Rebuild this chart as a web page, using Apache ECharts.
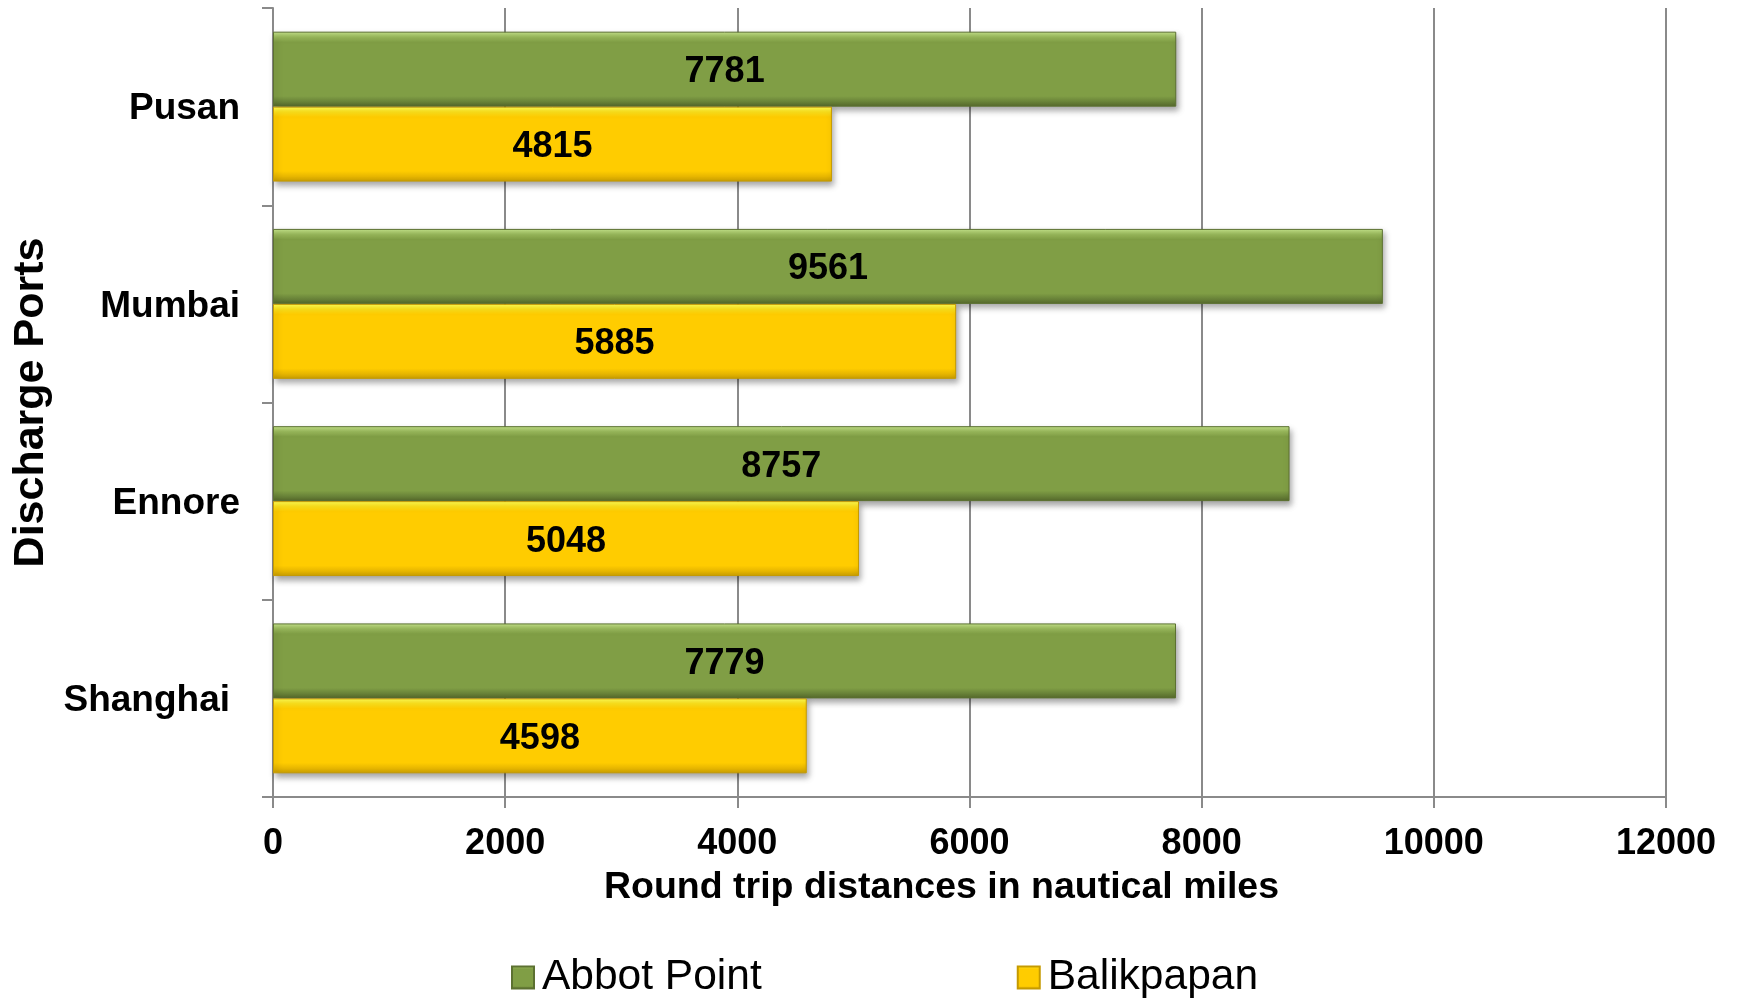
<!DOCTYPE html>
<html>
<head>
<meta charset="utf-8">
<script src="https://cdn.jsdelivr.net/npm/echarts@6/dist/echarts.min.js"></script>
<style>
  html, body { margin: 0; padding: 0; background: #ffffff; }
  #chart { width: 1739px; height: 999px; }
</style>
</head>
<body>
<div id="chart"></div>
<script>
// Discharge ports (top to bottom) and round trip distances in nautical miles
const ports = ['Pusan', 'Mumbai', 'Ennore', 'Shanghai'];
const abbotPoint = [7781, 9561, 8757, 7779];
const balikpapan = [4815, 5885, 5048, 4598];
const seriesNames = ['Abbot Point', 'Balikpapan'];
const xTicks = { min: 0, max: 12000, interval: 2000 };

const FONT = "'Liberation Sans', Arial, sans-serif";
const GRID_GRAY = '#8a8a8a';

// Vertical gradient giving the bars a bevelled look
function bevel(light, mid, base, darkMid, dark) {
  return new echarts.graphic.LinearGradient(0, 0, 0, 1, [
    { offset: 0, color: light },
    { offset: 0.07, color: mid },
    { offset: 0.14, color: base },
    { offset: 0.86, color: base },
    { offset: 0.93, color: darkMid },
    { offset: 1, color: dark }
  ]);
}

const greenFill = bevel('#c6e48c', '#9dbd5e', '#809e45', '#6a8439', '#56692c');
const yellowFill = bevel('#ffff55', '#ffe31c', '#ffcc00', '#e8b700', '#c99e00');

const barLabel = {
  show: true,
  position: 'inside',
  offset: [0, 3],
  color: '#000000',
  fontFamily: FONT,
  fontWeight: 'bold',
  fontSize: 36
};

const chart = echarts.init(document.getElementById('chart'), null, { renderer: 'canvas' });

chart.setOption({
  backgroundColor: '#ffffff',
  animation: false,
  grid: { left: 273, right: 73, top: 8, bottom: 202 },
  legend: {
    left: 506,
    top: 951,
    itemWidth: 22,
    itemHeight: 22,
    itemGap: 255,
    icon: 'rect',
    textStyle: {
      fontFamily: FONT,
      fontSize: 42.5,
      color: '#000000',
      padding: [0, 0, 0, 3]
    },
    data: seriesNames
  },
  xAxis: {
    type: 'value',
    min: xTicks.min,
    max: xTicks.max,
    interval: xTicks.interval,
    name: 'Round trip distances in nautical miles',
    nameLocation: 'middle',
    nameGap: 72,
    nameTextStyle: {
      fontFamily: FONT,
      fontWeight: 'bold',
      fontSize: 37.5,
      color: '#000000',
      padding: [0, 56, 0, 0]
    },
    axisLine: { show: true, lineStyle: { color: GRID_GRAY, width: 2 } },
    axisTick: { show: true, length: 11, lineStyle: { color: GRID_GRAY, width: 2 } },
    axisLabel: {
      margin: 29,
      fontFamily: FONT,
      fontWeight: 'bold',
      fontSize: 36,
      color: '#000000',
      formatter: (v) => String(v)
    },
    splitLine: { show: true, lineStyle: { color: GRID_GRAY, width: 2 } }
  },
  yAxis: {
    type: 'category',
    inverse: true,
    data: ports,
    name: 'Discharge Ports',
    nameLocation: 'middle',
    nameGap: 220,
    nameRotate: 90,
    nameTextStyle: {
      fontFamily: FONT,
      fontWeight: 'bold',
      fontSize: 43,
      color: '#000000'
    },
    axisLine: { show: true, lineStyle: { color: GRID_GRAY, width: 2 } },
    axisTick: { show: true, length: 11, lineStyle: { color: GRID_GRAY, width: 2 } },
    axisLabel: {
      margin: 33,
      fontFamily: FONT,
      fontWeight: 'bold',
      fontSize: 37,
      color: '#000000',
      padding: [5, 0, 0, 0],
      // the last port name carries a trailing space in its cell
      formatter: (v) => (v === 'Shanghai' ? '{pad|' + v + '}' : v),
      rich: {
        pad: {
          fontFamily: FONT,
          fontWeight: 'bold',
          fontSize: 37,
          color: '#000000',
          padding: [0, 10, 0, 0]
        }
      }
    },
    splitLine: { show: false }
  },
  series: [
    {
      name: seriesNames[0],
      type: 'bar',
      data: abbotPoint,
      barGap: '0%',
      barCategoryGap: '24%',
      itemStyle: {
        color: greenFill,
        borderColor: '#5c7131',
        borderWidth: 1,
        shadowColor: 'rgba(0,0,0,0.35)',
        shadowBlur: 6,
        shadowOffsetX: 2,
        shadowOffsetY: 4
      },
      label: barLabel
    },
    {
      name: seriesNames[1],
      type: 'bar',
      data: balikpapan,
      barGap: '0%',
      barCategoryGap: '24%',
      itemStyle: {
        color: yellowFill,
        borderColor: '#c59a00',
        borderWidth: 1,
        shadowColor: 'rgba(0,0,0,0.35)',
        shadowBlur: 6,
        shadowOffsetX: 2,
        shadowOffsetY: 4
      },
      label: barLabel
    }
  ]
});
</script>
</body>
</html>
